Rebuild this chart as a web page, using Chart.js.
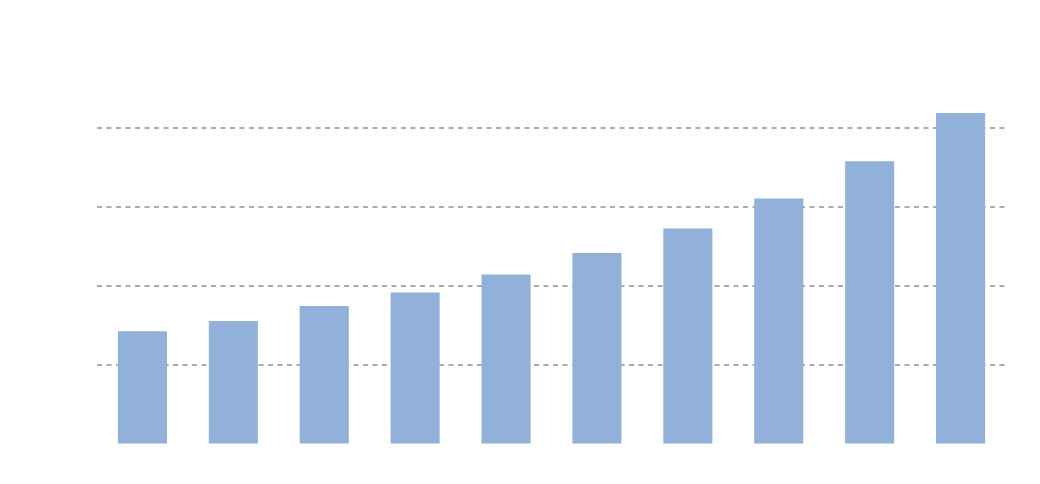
<!DOCTYPE html>
<html>
<head>
<meta charset="utf-8">
<script src="https://cdn.jsdelivr.net/npm/chart.js@4"></script>
<style>
  body { margin: 0; background: #fff; }
  #wrap { width: 1040px; height: 484px; }
</style>
</head>
<body>
<div id="wrap"><canvas id="barGraph" width="1040" height="484"></canvas></div>
<script>
// categories and values (grid step = 1)
const labels = ['1', '2', '3', '4', '5', '6', '7', '8', '9', '10'];
const values = [1.43, 1.56, 1.75, 1.92, 2.15, 2.42, 2.73, 3.11, 3.58, 4.19];
const yMax = 4.5;

const ctx = document.getElementById('barGraph').getContext('2d');
const chart = new Chart(ctx, {
    type: 'bar',
    data: {
        labels: labels,
        datasets: [{
            data: values,
            backgroundColor: '#91b1da',
            borderWidth: 0,
            barPercentage: 0.54,
            categoryPercentage: 1
        }]
    },
    options: {
        responsive: false,
        animation: false,
        layout: { padding: { left: 97, right: 34, top: 88.5, bottom: 39.5 } },
        plugins: { legend: { display: false }, tooltip: { enabled: false } },
        scales: {
            x: { display: false },
            y: {
                min: 0,
                max: yMax,
                ticks: { display: false, stepSize: 1 },
                border: { display: false, dash: [5, 4.5] },
                grid: {
                    drawTicks: false,
                    lineWidth: 2,
                    // only the 1..4 lines are drawn, dashed
                    color: c => (c.tick.value > 0 && c.tick.value <= 4) ? '#aaaaaa' : 'rgba(0,0,0,0)'
                },
                afterFit: axis => { axis.width = 0; }
            }
        }
    }
});
</script>
</body>
</html>
